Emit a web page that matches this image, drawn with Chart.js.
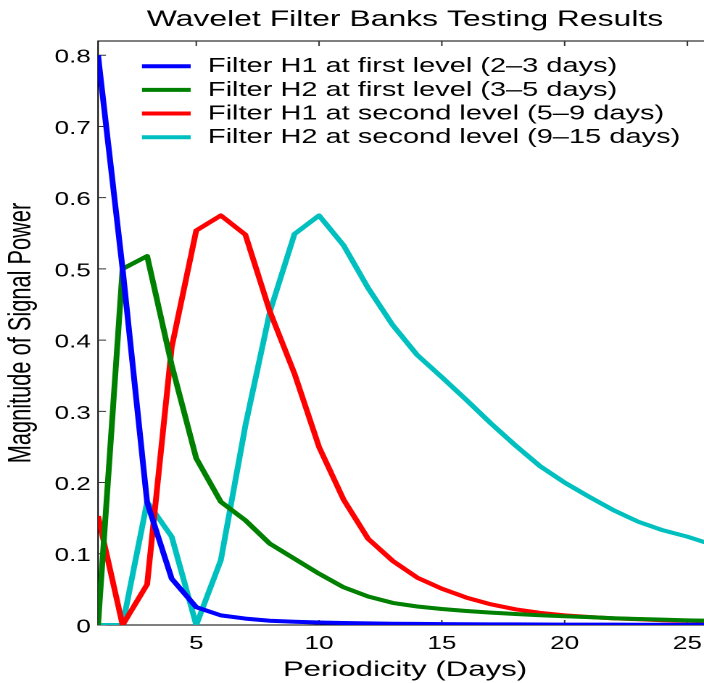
<!DOCTYPE html>
<html>
<head>
<meta charset="utf-8">
<title>Wavelet Filter Banks Testing Results</title>
<script src="https://cdn.jsdelivr.net/npm/chart.js@4.4.1/dist/chart.umd.min.js"></script>
<style>
html,body{margin:0;padding:0;background:#fff;overflow:hidden;width:704px;height:683px;}
#wrap{position:absolute;left:0;top:0;width:510px;height:683px;transform:scaleX(1.45);transform-origin:0 0;}
</style>
</head>
<body>
<div id="wrap"><canvas id="chart"></canvas></div>
<script>
// ---------------- data ----------------
const periods = [1,2,3,4,5,6,7,8,9,10,11,12,13,14,15,16,17,18,19,20,21,22,23,24,25,26];

const h1FirstLevel  = [0.80, 0.50, 0.172, 0.065, 0.025, 0.0135, 0.009, 0.006, 0.0045, 0.0035, 0.0028, 0.0022, 0.0018,
                       0.0015, 0.0012, 0.0010, 0.0009, 0.0008, 0.0007, 0.0006, 0.0005, 0.0005, 0.0004, 0.0004, 0.0003, 0.0003];
const h2FirstLevel  = [0.0, 0.50, 0.518, 0.365, 0.234, 0.173, 0.147, 0.114, 0.093, 0.072, 0.053, 0.040, 0.031,
                       0.026, 0.0225, 0.0197, 0.0174, 0.0155, 0.0136, 0.0122, 0.011, 0.0095, 0.0085, 0.0075, 0.0065, 0.006];
const h1SecondLevel = [0.153, 0.0, 0.057, 0.39, 0.554, 0.575, 0.548, 0.44, 0.353, 0.25, 0.176, 0.121, 0.09,
                       0.0665, 0.051, 0.0385, 0.029, 0.022, 0.017, 0.0136, 0.0112, 0.0093, 0.008, 0.0067, 0.006, 0.005];
const h2SecondLevel = [0.0, 0.0, 0.173, 0.124, 0.0, 0.091, 0.28, 0.44, 0.549, 0.575, 0.533, 0.473, 0.421,
                       0.379, 0.348, 0.316, 0.283, 0.252, 0.223, 0.200, 0.18, 0.161, 0.145, 0.133, 0.124, 0.113];

const seriesLabels = [
  'Filter H1 at first level (2\u20133 days)',
  'Filter H2 at first level (3\u20135 days)',
  'Filter H1 at second level (5\u20139 days)',
  'Filter H2 at second level (9\u201315 days)'
];
const seriesValues = [h1FirstLevel, h2FirstLevel, h1SecondLevel, h2SecondLevel];
const seriesColors = ['#0000ff', '#008000', '#ff0000', '#00bfbf'];

const xTickValues = [5, 10, 15, 20, 25];
const yTickValues = [0, 0.1, 0.2, 0.3, 0.4, 0.5, 0.6, 0.7, 0.8];

const chartTitle = 'Wavelet Filter Banks Testing Results';
const xAxisTitle = 'Periodicity (Days)';
const yAxisTitle = 'Magnitude of Signal Power';

// ---------------- styling ----------------
const FONT = "'Liberation Sans', Arial, Helvetica, sans-serif";

const framePlugin = {
  id: 'matlabFrame',
  beforeDatasetsDraw(chart) {
    const {ctx, chartArea: a, scales: {x, y}} = chart;
    ctx.save();
    ctx.strokeStyle = '#000';
    ctx.lineWidth = 1;
    ctx.strokeRect(a.left, a.top, a.right - a.left, a.bottom - a.top);
    ctx.strokeStyle = '#333';
    ctx.beginPath();
    x.ticks.forEach(t => {
      const px = x.getPixelForValue(t.value);
      ctx.moveTo(px, a.bottom); ctx.lineTo(px, a.bottom - 5);
      ctx.moveTo(px, a.top); ctx.lineTo(px, a.top + 5);
    });
    y.ticks.forEach(t => {
      const py = y.getPixelForValue(t.value);
      ctx.moveTo(a.left, py); ctx.lineTo(a.left + 5.5, py);
      ctx.moveTo(a.right, py); ctx.lineTo(a.right - 5.5, py);
    });
    ctx.stroke();
    ctx.restore();
  }
};

const legendPlugin = {
  id: 'insideLegend',
  afterDatasetsDraw(chart) {
    const {ctx, chartArea: a} = chart;
    ctx.save();
    ctx.font = '20px ' + FONT;
    ctx.textBaseline = 'middle';
    ctx.textAlign = 'left';
    chart.data.datasets.forEach((ds, i) => {
      const yy = a.top + 25.2 + i * 23.67;
      ctx.strokeStyle = ds.borderColor;
      ctx.lineWidth = 4;
      ctx.lineCap = 'butt';
      ctx.beginPath();
      ctx.moveTo(a.left + 30.3, yy);
      ctx.lineTo(a.left + 63.9, yy);
      ctx.stroke();
      ctx.fillStyle = '#000';
      ctx.fillText(ds.label, a.left + 75.8, yy + 0.5);
    });
    ctx.restore();
  }
};

const datasets = seriesLabels.map((label, i) => ({
  label: label,
  data: periods.map((p, j) => ({x: p, y: seriesValues[i][j]})),
  borderColor: seriesColors[i],
  backgroundColor: seriesColors[i],
  borderWidth: 4,
  pointRadius: 0,
  pointHoverRadius: 0,
  tension: 0,
  fill: false,
  borderJoinStyle: 'round'
}));

new Chart(document.getElementById('chart'), {
  type: 'line',
  data: {datasets: datasets},
  plugins: [framePlugin, legendPlugin],
  options: {
    responsive: true,
    maintainAspectRatio: false,
    animation: false,
    events: [],
    devicePixelRatio: 2,
    layout: {padding: {left: 0, right: 19, top: 0, bottom: 0}},
    plugins: {
      legend: {display: false},
      tooltip: {enabled: false},
      title: {
        display: true,
        text: chartTitle,
        fullSize: false,
        color: '#000',
        font: {family: FONT, size: 22, weight: 'normal', lineHeight: 1.2},
        padding: {top: 6.9, bottom: 7.7}
      }
    },
    scales: {
      x: {
        type: 'linear',
        min: 1,
        max: 26,
        afterBuildTicks: s => { s.ticks = xTickValues.map(v => ({value: v})); },
        afterFit: s => { s.height = 58; },
        grid: {display: false, drawTicks: false},
        border: {display: false},
        ticks: {padding: 8, color: '#000', autoSkip: false, maxRotation: 0,
                font: {family: FONT, size: 18}},
        title: {display: true, text: xAxisTitle, color: '#000',
                font: {family: FONT, size: 21.5}, padding: {top: 0, bottom: 0}}
      },
      y: {
        type: 'linear',
        min: 0,
        max: 0.82,
        afterBuildTicks: s => { s.ticks = yTickValues.map(v => ({value: v})); },
        afterFit: s => { s.width = 67.6; },
        grid: {display: false, drawTicks: false},
        border: {display: false},
        ticks: {padding: 5, color: '#000', labelOffset: 2.5,
                font: {family: FONT, size: 18},
                callback: v => String(v)},
        title: {display: true, text: yAxisTitle, color: '#000',
                font: {family: FONT, size: 21.8}, padding: {top: 2, bottom: 0}}
      }
    }
  }
});
</script>
</body>
</html>
